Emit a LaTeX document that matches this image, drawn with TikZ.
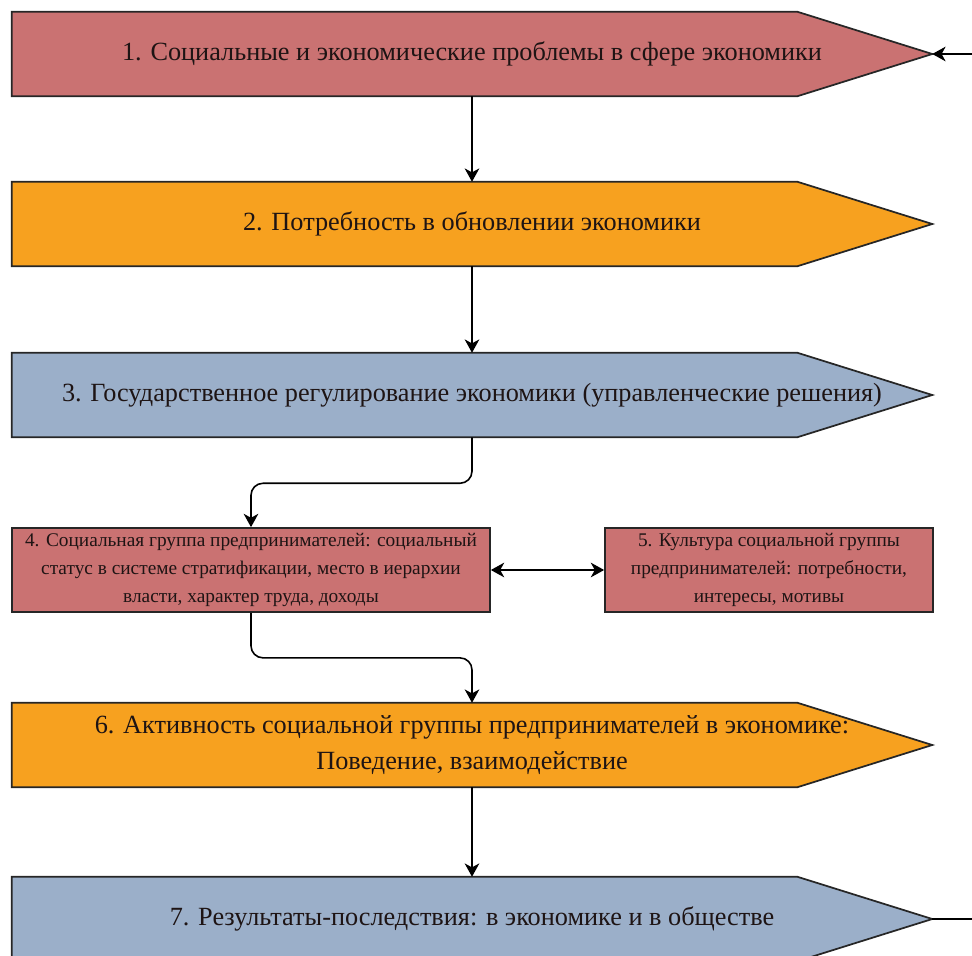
\documentclass[tikz,border=0pt]{standalone}
\usepackage{fontspec}
\setmainfont{Liberation Serif}
\newfontfamily\labelserif{Liberation Serif}
\usetikzlibrary{arrows.meta}

\definecolor{boxred}{RGB}{202,114,114}
\definecolor{boxorange}{RGB}{247,161,31}
\definecolor{boxblue}{RGB}{155,175,201}
\definecolor{inkdark}{RGB}{30,20,20}

\tikzset{
  % invisible frame that carries the text and anchors of a pointed box
  bigframe/.style={rectangle, draw=none, minimum width=690pt, minimum height=63pt,
    inner sep=0pt, align=center, text=inkdark,
    font=\labelserif\fontsize{19.7}{27}\selectfont},
  smallbox/.style={rectangle, draw=black!85, line width=1.3pt, minimum height=63pt,
    inner sep=0pt, align=center, text=inkdark,
    font=\labelserif\fontsize{14.5}{21.3}\selectfont},
  outline/.style={draw=black!85, line width=1.3pt, line join=miter},
  link/.style={draw=black, line width=1.2pt, -{Stealth[length=10pt,width=11pt,inset=3pt]}},
  dlink/.style={draw=black, line width=1.2pt,
    {Stealth[length=10pt,width=11pt,inset=3pt]}-{Stealth[length=10pt,width=11pt,inset=3pt]}},
  plain/.style={draw=black, line width=1.2pt}
}

% pentagon with a pointed right side, drawn around a named frame node
\newcommand\pointedbox[2]{%
  \fill[#2] (#1.north west) -- ([xshift=-101.25pt]#1.north east) -- (#1.east)
    -- ([xshift=-101.25pt]#1.south east) -- (#1.south west) -- cycle;
  \draw[outline] (#1.north west) -- ([xshift=-101.25pt]#1.north east) -- (#1.east)
    -- ([xshift=-101.25pt]#1.south east) -- (#1.south west) -- cycle;
}

\begin{document}
\begin{tikzpicture}[x=0.75pt,y=-0.75pt]
\useasboundingbox (0,0) rectangle (972,956);

% pointed boxes
\node[bigframe] (b1) at (472,54) {};
\node[bigframe] (b2) at (472,224) {};
\node[bigframe] (b3) at (472,395) {};
\node[bigframe] (b6) at (472,745) {};
\node[bigframe] (b7) at (472,919) {};

\pointedbox{b1}{boxred}
\pointedbox{b2}{boxorange}
\pointedbox{b3}{boxblue}
\pointedbox{b6}{boxorange}
\pointedbox{b7}{boxblue}

\node[bigframe] (t1) at (b1) {1. Социальные и экономические проблемы в сфере экономики};
\node[bigframe] (t2) at (b2) {2. Потребность в обновлении экономики};
\node[bigframe] (t3) at (b3) {3. Государственное регулирование экономики (управленческие решения)};
\node[bigframe] (t6) at (b6) {6. Активность социальной группы предпринимателей в экономике:\\Поведение, взаимодействие};
\node[bigframe] (t7) at (b7) {7. Результаты-последствия: в экономике и в обществе};

% rectangular boxes
\node[smallbox, fill=boxred, minimum width=358.5pt] (b4) at (251,570)
  {4. Социальная группа предпринимателей: социальный\\статус в системе стратификации, место в иерархии\\власти, характер труда, доходы};
\node[smallbox, fill=boxred, minimum width=246pt] (b5) at (769,570)
  {5. Культура социальной группы\\предпринимателей: потребности,\\интересы, мотивы};

% feedback ends at the right border
\coordinate (fbin) at (972,54);
\coordinate (fbout) at (972,919);

% connectors
\draw[link] (b1.south) -- (b2.north);
\draw[link] (b2.south) -- (b3.north);
\draw[link, rounded corners=9pt] (b3.south) -- ++(0,46) -| (b4.north);
\draw[dlink] (b4.east) -- (b5.west);
\draw[link, rounded corners=9pt] (b4.south) -- ++(0,45) -| (b6.north);
\draw[link] (b6.south) -- (b7.north);
\draw[link] (fbin) -- (b1.east);
\draw[plain] (b7.east) -- (fbout);
\end{tikzpicture}
\end{document}
